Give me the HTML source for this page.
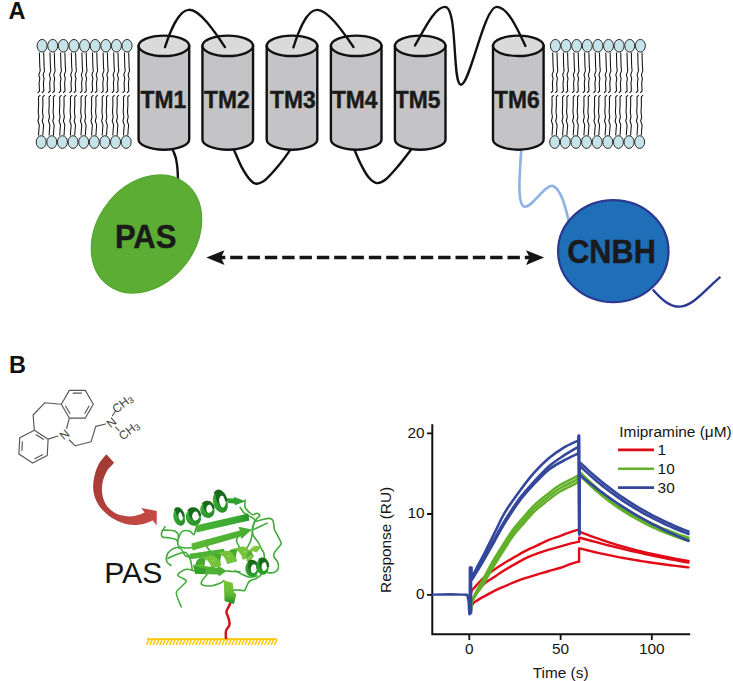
<!DOCTYPE html>
<html><head><meta charset="utf-8"><style>
html,body{margin:0;padding:0;background:#fff;}
svg{display:block;}
text{font-family:"Liberation Sans",sans-serif;}
.lbl{font-size:23.5px;font-weight:bold;fill:#111;}
.tm{font-size:24.8px;font-weight:bold;fill:#1a1a1a;stroke:#1a1a1a;stroke-width:0.45px;}
.big{font-size:33px;font-weight:bold;fill:#1a1a1a;stroke:#1a1a1a;stroke-width:0.4px;}
</style></head><body>
<svg width="733" height="681" viewBox="0 0 733 681">
<text x="8.6" y="18.9" class="lbl">A</text><path d="M39.4 52.5 L39.8 66.5 L40.2 70.8 L38.8 74.8 L39.8 78.6 L39.1 83.0 L39.5 91.0 L37.6 92.8 M43.7 52.5 L44.1 66.5 L44.5 70.8 L43.1 74.8 L44.1 78.6 L43.4 83.0 L43.8 91.0 L41.9 92.8 M40.3 95.2 L38.5 97.0 L38.6 105.0 L38.2 112.0 L38.9 117.0 L37.9 121.0 L39.3 125.0 L38.9 129.5 L38.5 135.5 M44.6 95.2 L42.8 97.0 L42.9 105.0 L42.5 112.0 L43.2 117.0 L42.2 121.0 L43.6 125.0 L43.2 129.5 L42.8 135.5 M50.0 52.5 L50.4 66.5 L50.8 70.8 L49.4 74.8 L50.4 78.6 L49.7 83.0 L50.1 91.0 L48.2 92.8 M54.3 52.5 L54.7 66.5 L55.1 70.8 L53.7 74.8 L54.7 78.6 L54.0 83.0 L54.4 91.0 L52.5 92.8 M50.9 95.2 L49.1 97.0 L49.2 105.0 L48.8 112.0 L49.5 117.0 L48.5 121.0 L49.9 125.0 L49.5 129.5 L49.1 135.5 M55.2 95.2 L53.4 97.0 L53.5 105.0 L53.1 112.0 L53.8 117.0 L52.8 121.0 L54.2 125.0 L53.8 129.5 L53.4 135.5 M60.6 52.5 L61.0 66.5 L61.4 70.8 L60.0 74.8 L61.0 78.6 L60.3 83.0 L60.7 91.0 L58.8 92.8 M64.9 52.5 L65.3 66.5 L65.7 70.8 L64.3 74.8 L65.3 78.6 L64.6 83.0 L65.0 91.0 L63.1 92.8 M61.5 95.2 L59.7 97.0 L59.8 105.0 L59.4 112.0 L60.1 117.0 L59.1 121.0 L60.5 125.0 L60.1 129.5 L59.7 135.5 M65.8 95.2 L64.0 97.0 L64.1 105.0 L63.7 112.0 L64.4 117.0 L63.4 121.0 L64.8 125.0 L64.4 129.5 L64.0 135.5 M71.3 52.5 L71.7 66.5 L72.1 70.8 L70.7 74.8 L71.7 78.6 L71.0 83.0 L71.4 91.0 L69.5 92.8 M75.6 52.5 L76.0 66.5 L76.4 70.8 L75.0 74.8 L76.0 78.6 L75.3 83.0 L75.7 91.0 L73.8 92.8 M72.2 95.2 L70.4 97.0 L70.5 105.0 L70.1 112.0 L70.8 117.0 L69.8 121.0 L71.2 125.0 L70.8 129.5 L70.4 135.5 M76.5 95.2 L74.7 97.0 L74.8 105.0 L74.4 112.0 L75.1 117.0 L74.1 121.0 L75.5 125.0 L75.1 129.5 L74.7 135.5 M81.9 52.5 L82.3 66.5 L82.7 70.8 L81.3 74.8 L82.3 78.6 L81.6 83.0 L82.0 91.0 L80.1 92.8 M86.2 52.5 L86.6 66.5 L87.0 70.8 L85.6 74.8 L86.6 78.6 L85.9 83.0 L86.3 91.0 L84.4 92.8 M82.8 95.2 L81.0 97.0 L81.1 105.0 L80.7 112.0 L81.4 117.0 L80.4 121.0 L81.8 125.0 L81.4 129.5 L81.0 135.5 M87.1 95.2 L85.3 97.0 L85.4 105.0 L85.0 112.0 L85.7 117.0 L84.7 121.0 L86.1 125.0 L85.7 129.5 L85.3 135.5 M92.5 52.5 L92.9 66.5 L93.3 70.8 L91.9 74.8 L92.9 78.6 L92.2 83.0 L92.6 91.0 L90.7 92.8 M96.8 52.5 L97.2 66.5 L97.6 70.8 L96.2 74.8 L97.2 78.6 L96.5 83.0 L96.9 91.0 L95.0 92.8 M93.4 95.2 L91.6 97.0 L91.7 105.0 L91.3 112.0 L92.0 117.0 L91.0 121.0 L92.4 125.0 L92.0 129.5 L91.6 135.5 M97.7 95.2 L95.9 97.0 L96.0 105.0 L95.6 112.0 L96.3 117.0 L95.3 121.0 L96.7 125.0 L96.3 129.5 L95.9 135.5 M103.1 52.5 L103.5 66.5 L103.9 70.8 L102.5 74.8 L103.5 78.6 L102.8 83.0 L103.2 91.0 L101.3 92.8 M107.4 52.5 L107.8 66.5 L108.2 70.8 L106.8 74.8 L107.8 78.6 L107.1 83.0 L107.5 91.0 L105.6 92.8 M104.0 95.2 L102.2 97.0 L102.3 105.0 L101.9 112.0 L102.6 117.0 L101.6 121.0 L103.0 125.0 L102.6 129.5 L102.2 135.5 M108.3 95.2 L106.5 97.0 L106.6 105.0 L106.2 112.0 L106.9 117.0 L105.9 121.0 L107.3 125.0 L106.9 129.5 L106.5 135.5 M113.7 52.5 L114.1 66.5 L114.5 70.8 L113.1 74.8 L114.1 78.6 L113.4 83.0 L113.8 91.0 L111.9 92.8 M118.0 52.5 L118.4 66.5 L118.8 70.8 L117.4 74.8 L118.4 78.6 L117.7 83.0 L118.1 91.0 L116.2 92.8 M114.6 95.2 L112.8 97.0 L112.9 105.0 L112.5 112.0 L113.2 117.0 L112.2 121.0 L113.6 125.0 L113.2 129.5 L112.8 135.5 M118.9 95.2 L117.1 97.0 L117.2 105.0 L116.8 112.0 L117.5 117.0 L116.5 121.0 L117.9 125.0 L117.5 129.5 L117.1 135.5 M124.4 52.5 L124.8 66.5 L125.2 70.8 L123.8 74.8 L124.8 78.6 L124.1 83.0 L124.5 91.0 L122.6 92.8 M128.7 52.5 L129.1 66.5 L129.5 70.8 L128.1 74.8 L129.1 78.6 L128.4 83.0 L128.8 91.0 L126.9 92.8 M125.3 95.2 L123.5 97.0 L123.6 105.0 L123.2 112.0 L123.9 117.0 L122.9 121.0 L124.3 125.0 L123.9 129.5 L123.5 135.5 M129.6 95.2 L127.8 97.0 L127.9 105.0 L127.5 112.0 L128.2 117.0 L127.2 121.0 L128.6 125.0 L128.2 129.5 L127.8 135.5" fill="none" stroke="#111" stroke-width="1.05"/><g fill="#c6e3e9" stroke="#2a2a2a" stroke-width="1"><ellipse cx="42.10" cy="45.75" rx="5.0" ry="6.3"/><ellipse cx="41.20" cy="142.05" rx="5.0" ry="6.35"/><ellipse cx="52.72" cy="45.75" rx="5.0" ry="6.3"/><ellipse cx="51.82" cy="142.05" rx="5.0" ry="6.35"/><ellipse cx="63.34" cy="45.75" rx="5.0" ry="6.3"/><ellipse cx="62.44" cy="142.05" rx="5.0" ry="6.35"/><ellipse cx="73.96" cy="45.75" rx="5.0" ry="6.3"/><ellipse cx="73.06" cy="142.05" rx="5.0" ry="6.35"/><ellipse cx="84.58" cy="45.75" rx="5.0" ry="6.3"/><ellipse cx="83.68" cy="142.05" rx="5.0" ry="6.35"/><ellipse cx="95.20" cy="45.75" rx="5.0" ry="6.3"/><ellipse cx="94.30" cy="142.05" rx="5.0" ry="6.35"/><ellipse cx="105.82" cy="45.75" rx="5.0" ry="6.3"/><ellipse cx="104.92" cy="142.05" rx="5.0" ry="6.35"/><ellipse cx="116.44" cy="45.75" rx="5.0" ry="6.3"/><ellipse cx="115.54" cy="142.05" rx="5.0" ry="6.35"/><ellipse cx="127.06" cy="45.75" rx="5.0" ry="6.3"/><ellipse cx="126.16" cy="142.05" rx="5.0" ry="6.35"/></g><path d="M552.7 52.5 L553.1 66.5 L553.5 70.8 L552.1 74.8 L553.1 78.6 L552.4 83.0 L552.8 91.0 L550.9 92.8 M557.0 52.5 L557.4 66.5 L557.8 70.8 L556.4 74.8 L557.4 78.6 L556.7 83.0 L557.1 91.0 L555.2 92.8 M553.8 95.2 L552.0 97.0 L552.1 105.0 L551.7 112.0 L552.4 117.0 L551.4 121.0 L552.8 125.0 L552.4 129.5 L552.0 135.5 M558.1 95.2 L556.3 97.0 L556.4 105.0 L556.0 112.0 L556.7 117.0 L555.7 121.0 L557.1 125.0 L556.7 129.5 L556.3 135.5 M563.3 52.5 L563.7 66.5 L564.1 70.8 L562.7 74.8 L563.7 78.6 L563.0 83.0 L563.4 91.0 L561.5 92.8 M567.6 52.5 L568.0 66.5 L568.4 70.8 L567.0 74.8 L568.0 78.6 L567.3 83.0 L567.7 91.0 L565.8 92.8 M564.4 95.2 L562.6 97.0 L562.7 105.0 L562.3 112.0 L563.0 117.0 L562.0 121.0 L563.4 125.0 L563.0 129.5 L562.6 135.5 M568.7 95.2 L566.9 97.0 L567.0 105.0 L566.6 112.0 L567.3 117.0 L566.3 121.0 L567.7 125.0 L567.3 129.5 L566.9 135.5 M573.9 52.5 L574.3 66.5 L574.7 70.8 L573.3 74.8 L574.3 78.6 L573.6 83.0 L574.0 91.0 L572.1 92.8 M578.2 52.5 L578.6 66.5 L579.0 70.8 L577.6 74.8 L578.6 78.6 L577.9 83.0 L578.3 91.0 L576.4 92.8 M575.0 95.2 L573.2 97.0 L573.3 105.0 L572.9 112.0 L573.6 117.0 L572.6 121.0 L574.0 125.0 L573.6 129.5 L573.2 135.5 M579.3 95.2 L577.5 97.0 L577.6 105.0 L577.2 112.0 L577.9 117.0 L576.9 121.0 L578.3 125.0 L577.9 129.5 L577.5 135.5 M584.6 52.5 L585.0 66.5 L585.4 70.8 L584.0 74.8 L585.0 78.6 L584.3 83.0 L584.7 91.0 L582.8 92.8 M588.9 52.5 L589.3 66.5 L589.7 70.8 L588.3 74.8 L589.3 78.6 L588.6 83.0 L589.0 91.0 L587.1 92.8 M585.7 95.2 L583.9 97.0 L584.0 105.0 L583.6 112.0 L584.3 117.0 L583.3 121.0 L584.7 125.0 L584.3 129.5 L583.9 135.5 M590.0 95.2 L588.2 97.0 L588.3 105.0 L587.9 112.0 L588.6 117.0 L587.6 121.0 L589.0 125.0 L588.6 129.5 L588.2 135.5 M595.2 52.5 L595.6 66.5 L596.0 70.8 L594.6 74.8 L595.6 78.6 L594.9 83.0 L595.3 91.0 L593.4 92.8 M599.5 52.5 L599.9 66.5 L600.3 70.8 L598.9 74.8 L599.9 78.6 L599.2 83.0 L599.6 91.0 L597.7 92.8 M596.3 95.2 L594.5 97.0 L594.6 105.0 L594.2 112.0 L594.9 117.0 L593.9 121.0 L595.3 125.0 L594.9 129.5 L594.5 135.5 M600.6 95.2 L598.8 97.0 L598.9 105.0 L598.5 112.0 L599.2 117.0 L598.2 121.0 L599.6 125.0 L599.2 129.5 L598.8 135.5 M605.8 52.5 L606.2 66.5 L606.6 70.8 L605.2 74.8 L606.2 78.6 L605.5 83.0 L605.9 91.0 L604.0 92.8 M610.1 52.5 L610.5 66.5 L610.9 70.8 L609.5 74.8 L610.5 78.6 L609.8 83.0 L610.2 91.0 L608.3 92.8 M606.9 95.2 L605.1 97.0 L605.2 105.0 L604.8 112.0 L605.5 117.0 L604.5 121.0 L605.9 125.0 L605.5 129.5 L605.1 135.5 M611.2 95.2 L609.4 97.0 L609.5 105.0 L609.1 112.0 L609.8 117.0 L608.8 121.0 L610.2 125.0 L609.8 129.5 L609.4 135.5 M616.4 52.5 L616.8 66.5 L617.2 70.8 L615.8 74.8 L616.8 78.6 L616.1 83.0 L616.5 91.0 L614.6 92.8 M620.7 52.5 L621.1 66.5 L621.5 70.8 L620.1 74.8 L621.1 78.6 L620.4 83.0 L620.8 91.0 L618.9 92.8 M617.5 95.2 L615.7 97.0 L615.8 105.0 L615.4 112.0 L616.1 117.0 L615.1 121.0 L616.5 125.0 L616.1 129.5 L615.7 135.5 M621.8 95.2 L620.0 97.0 L620.1 105.0 L619.7 112.0 L620.4 117.0 L619.4 121.0 L620.8 125.0 L620.4 129.5 L620.0 135.5 M627.0 52.5 L627.4 66.5 L627.8 70.8 L626.4 74.8 L627.4 78.6 L626.7 83.0 L627.1 91.0 L625.2 92.8 M631.3 52.5 L631.7 66.5 L632.1 70.8 L630.7 74.8 L631.7 78.6 L631.0 83.0 L631.4 91.0 L629.5 92.8 M628.1 95.2 L626.3 97.0 L626.4 105.0 L626.0 112.0 L626.7 117.0 L625.7 121.0 L627.1 125.0 L626.7 129.5 L626.3 135.5 M632.4 95.2 L630.6 97.0 L630.7 105.0 L630.3 112.0 L631.0 117.0 L630.0 121.0 L631.4 125.0 L631.0 129.5 L630.6 135.5 M637.7 52.5 L638.1 66.5 L638.5 70.8 L637.1 74.8 L638.1 78.6 L637.4 83.0 L637.8 91.0 L635.9 92.8 M642.0 52.5 L642.4 66.5 L642.8 70.8 L641.4 74.8 L642.4 78.6 L641.7 83.0 L642.1 91.0 L640.2 92.8 M638.8 95.2 L637.0 97.0 L637.1 105.0 L636.7 112.0 L637.4 117.0 L636.4 121.0 L637.8 125.0 L637.4 129.5 L637.0 135.5 M643.1 95.2 L641.3 97.0 L641.4 105.0 L641.0 112.0 L641.7 117.0 L640.7 121.0 L642.1 125.0 L641.7 129.5 L641.3 135.5" fill="none" stroke="#111" stroke-width="1.05"/><g fill="#c6e3e9" stroke="#2a2a2a" stroke-width="1"><ellipse cx="555.40" cy="45.75" rx="5.0" ry="6.3"/><ellipse cx="554.70" cy="142.05" rx="5.0" ry="6.35"/><ellipse cx="566.02" cy="45.75" rx="5.0" ry="6.3"/><ellipse cx="565.32" cy="142.05" rx="5.0" ry="6.35"/><ellipse cx="576.64" cy="45.75" rx="5.0" ry="6.3"/><ellipse cx="575.94" cy="142.05" rx="5.0" ry="6.35"/><ellipse cx="587.26" cy="45.75" rx="5.0" ry="6.3"/><ellipse cx="586.56" cy="142.05" rx="5.0" ry="6.35"/><ellipse cx="597.88" cy="45.75" rx="5.0" ry="6.3"/><ellipse cx="597.18" cy="142.05" rx="5.0" ry="6.35"/><ellipse cx="608.50" cy="45.75" rx="5.0" ry="6.3"/><ellipse cx="607.80" cy="142.05" rx="5.0" ry="6.35"/><ellipse cx="619.12" cy="45.75" rx="5.0" ry="6.3"/><ellipse cx="618.42" cy="142.05" rx="5.0" ry="6.35"/><ellipse cx="629.74" cy="45.75" rx="5.0" ry="6.3"/><ellipse cx="629.04" cy="142.05" rx="5.0" ry="6.35"/><ellipse cx="640.36" cy="45.75" rx="5.0" ry="6.3"/><ellipse cx="639.66" cy="142.05" rx="5.0" ry="6.35"/></g><g fill="none" stroke="#111" stroke-width="2.4"><path d="M170 146 C175 152 178.2 160 178 186"/><path d="M232.50 146.00 C232.78 146.73 232.65 146.85 234.20 150.40 C235.75 153.95 239.07 162.30 241.80 167.30 C244.53 172.30 248.13 177.67 250.60 180.40 C253.07 183.13 254.05 183.88 256.60 183.70 C259.15 183.52 262.17 182.40 265.90 179.30 C269.63 176.20 275.00 169.92 279.00 165.10 C283.00 160.28 287.73 153.58 289.90 150.40 C292.07 147.22 291.65 146.73 292.00 146.00"/><path d="M353.20 146.00 C353.45 146.73 353.45 147.40 354.70 150.40 C355.95 153.40 358.42 159.55 360.70 164.00 C362.98 168.45 365.75 173.92 368.40 177.10 C371.05 180.28 373.68 182.73 376.60 183.10 C379.52 183.47 382.17 182.30 385.90 179.30 C389.63 176.30 394.82 170.02 399.00 165.10 C403.18 160.18 408.58 152.98 411.00 149.80 C413.42 146.62 413.08 146.63 413.50 146.00"/></g><path d="M521.4 148 C520 170 517 200 523 206 C530 212 545 183 553 186 C562 190 566 210 569 222" fill="none" stroke="#8db3e2" stroke-width="2.6"/><path d="M138.60 45.80 L138.60 139.50 A25.30 10.20 0 0 0 189.20 139.50 L189.20 45.80 Z" fill="#c4c4c6" stroke="#111" stroke-width="2.4"/><ellipse cx="163.90" cy="45.80" rx="25.30" ry="10.20" fill="#dadada" stroke="#111" stroke-width="2.4"/><text transform="translate(163.40 108) scale(0.92 1)" class="tm" text-anchor="middle">TM1</text><path d="M202.45 45.80 L202.45 139.50 A25.30 10.20 0 0 0 253.05 139.50 L253.05 45.80 Z" fill="#c4c4c6" stroke="#111" stroke-width="2.4"/><ellipse cx="227.75" cy="45.80" rx="25.30" ry="10.20" fill="#dadada" stroke="#111" stroke-width="2.4"/><text transform="translate(226.85 108) scale(0.92 1)" class="tm" text-anchor="middle">TM2</text><path d="M266.70 45.80 L266.70 139.50 A25.30 10.20 0 0 0 317.30 139.50 L317.30 45.80 Z" fill="#c4c4c6" stroke="#111" stroke-width="2.4"/><ellipse cx="292.00" cy="45.80" rx="25.30" ry="10.20" fill="#dadada" stroke="#111" stroke-width="2.4"/><text transform="translate(292.90 108) scale(0.92 1)" class="tm" text-anchor="middle">TM3</text><path d="M330.90 45.80 L330.90 139.50 A25.30 10.20 0 0 0 381.50 139.50 L381.50 45.80 Z" fill="#c4c4c6" stroke="#111" stroke-width="2.4"/><ellipse cx="356.20" cy="45.80" rx="25.30" ry="10.20" fill="#dadada" stroke="#111" stroke-width="2.4"/><text transform="translate(354.70 108) scale(0.92 1)" class="tm" text-anchor="middle">TM4</text><path d="M394.90 45.80 L394.90 139.50 A25.30 10.20 0 0 0 445.50 139.50 L445.50 45.80 Z" fill="#c4c4c6" stroke="#111" stroke-width="2.4"/><ellipse cx="420.20" cy="45.80" rx="25.30" ry="10.20" fill="#dadada" stroke="#111" stroke-width="2.4"/><text transform="translate(417.60 108) scale(0.92 1)" class="tm" text-anchor="middle">TM5</text><path d="M493.00 45.80 L493.00 139.50 A25.30 10.20 0 0 0 543.60 139.50 L543.60 45.80 Z" fill="#c4c4c6" stroke="#111" stroke-width="2.4"/><ellipse cx="518.30" cy="45.80" rx="25.30" ry="10.20" fill="#dadada" stroke="#111" stroke-width="2.4"/><text transform="translate(516.80 108) scale(0.92 1)" class="tm" text-anchor="middle">TM6</text><g fill="none" stroke="#111" stroke-width="2.35" stroke-linecap="round"><path d="M165 47.1 C170 32 178 10 189 9.8 C200 9.6 215 32 225 47.1"/><path d="M293.4 47.4 C298 33 306 10 317 9.9 C328 9.8 343 32 353.5 47"/><path d="M415 45.4 C425 28 435 7 445 6.9 C458 7 452 84.7 461 84.7 C470 84.7 484 7 496.6 6.9 C508 7 518 30 525.4 46"/></g><ellipse cx="146.5" cy="234" rx="49.4" ry="63.9" transform="rotate(37.4 146.5 234)" fill="#5cad33" stroke="#52a42d" stroke-width="1.2"/><text transform="translate(145.6 247.7) scale(0.94 1)" class="big" text-anchor="middle">PAS</text><path d="M652.7 289.5 C662 300 670 307 680 306.6 C693 306 705 290 720.4 276.9" fill="none" stroke="#2b3990" stroke-width="2.4"/><ellipse cx="613.3" cy="251.2" rx="55.2" ry="51" fill="#1e6eb8" stroke="#2b3990" stroke-width="2.2"/><text transform="translate(611.5 263.2) scale(0.93 1)" class="big" text-anchor="middle">CNBH</text><line x1="212.87" y1="257.5" x2="530" y2="257.5" stroke="#151515" stroke-width="3.4" stroke-dasharray="12.4 4.93"/><path d="M206.3 257.5 L224.5 250.3 L221 257.5 L224.5 265.0 Z" fill="#151515"/><path d="M544.2 257.5 L526.0 250.3 L529.6 257.5 L526.0 265.0 Z" fill="#151515"/><text x="9" y="372.9" class="lbl">B</text><path d="M61.30 404.20 L69.30 390.34 M34.36 430.22 L48.11 439.15 M69.30 390.34 L85.30 390.34 M48.11 439.15 L47.25 455.53 M85.30 390.34 L93.30 404.20 M47.25 455.53 L32.64 462.98 M93.30 404.20 L85.30 418.06 M32.64 462.98 L18.89 454.05 M85.30 418.06 L69.30 418.06 M18.89 454.05 L19.75 437.67 M69.30 418.06 L61.30 404.20 M19.75 437.67 L34.36 430.22 M73.21 393.13 L81.39 393.13 M88.93 406.19 L84.84 413.28 M69.76 413.28 L65.67 406.19 M36.18 434.73 L43.25 439.32 M42.44 454.86 L34.92 458.68 M21.88 450.21 L22.32 441.79 M61.30 404.20 L45.00 402.70 M45.00 402.70 L33.10 415.00 M33.10 415.00 L34.36 430.22 M69.30 418.06 L66.60 428.50 M48.11 439.15 L58.00 436.00 M69.20 440.00 L75.30 445.80 M75.30 445.80 L91.10 441.70 M91.10 441.70 L95.80 426.40 M95.80 426.40 L105.60 424.00 M112.40 415.80 L115.60 410.80 M115.60 427.20 L119.00 430.60" fill="none" stroke="#555" stroke-width="1.15" stroke-linecap="round"/><g fill="#444" font-size="12px" style="font-family:'Liberation Sans',sans-serif"><text transform="translate(64.4 434.4) rotate(-40)" text-anchor="middle" dy="4.3">N</text><text transform="translate(111.2 422.4) rotate(-40)" text-anchor="middle" dy="4.3">N</text><text transform="translate(122.4 403.4) rotate(-38)" text-anchor="middle" dy="4.3">CH<tspan font-size="9px" dy="1.5">3</tspan></text><text transform="translate(128.8 430.4) rotate(-38)" text-anchor="middle" dy="4.3">CH<tspan font-size="9px" dy="1.5">3</tspan></text></g><defs><linearGradient id="rg" x1="0" y1="0" x2="1" y2="1"><stop offset="0" stop-color="#9d3733"/><stop offset="1" stop-color="#c94b46"/></linearGradient></defs><path d="M106.40 454.20 C105.18 455.75 101.07 459.95 99.10 463.50 C97.13 467.05 95.58 471.33 94.60 475.50 C93.62 479.67 92.97 484.38 93.20 488.50 C93.43 492.62 94.37 496.53 96.00 500.20 C97.63 503.87 99.87 507.27 103.00 510.50 C106.13 513.73 110.55 517.25 114.80 519.60 C119.05 521.95 123.87 523.83 128.50 524.60 C133.13 525.37 138.55 524.87 142.60 524.20 C146.65 523.53 151.10 521.20 152.80 520.60 L156.7 525.4 L156.8 511.1 L141.2 507.9 L144.60 512.50 C143.83 512.82 142.45 513.75 140.00 514.40 C137.55 515.05 133.50 516.37 129.90 516.40 C126.30 516.43 121.78 515.87 118.40 514.60 C115.02 513.33 111.93 510.98 109.60 508.80 C107.27 506.62 105.67 504.40 104.40 501.50 C103.13 498.60 102.25 494.80 102.00 491.40 C101.75 488.00 102.07 484.50 102.90 481.10 C103.73 477.70 105.13 474.05 107.00 471.00 C108.87 467.95 112.92 464.17 114.10 462.80 Z" fill="url(#rg)"/><rect x="147" y="638.2" width="129.7" height="1.8" fill="#fcc700"/><path d="M146.60 645 L149.00 639.6 M149.88 645 L152.28 639.6 M153.16 645 L155.56 639.6 M156.44 645 L158.84 639.6 M159.72 645 L162.12 639.6 M163.00 645 L165.40 639.6 M166.28 645 L168.68 639.6 M169.56 645 L171.96 639.6 M172.84 645 L175.24 639.6 M176.12 645 L178.52 639.6 M179.40 645 L181.80 639.6 M182.68 645 L185.08 639.6 M185.96 645 L188.36 639.6 M189.24 645 L191.64 639.6 M192.52 645 L194.92 639.6 M195.80 645 L198.20 639.6 M199.08 645 L201.48 639.6 M202.36 645 L204.76 639.6 M205.64 645 L208.04 639.6 M208.92 645 L211.32 639.6 M212.20 645 L214.60 639.6 M215.48 645 L217.88 639.6 M218.76 645 L221.16 639.6 M222.04 645 L224.44 639.6 M225.32 645 L227.72 639.6 M228.60 645 L231.00 639.6 M231.88 645 L234.28 639.6 M235.16 645 L237.56 639.6 M238.44 645 L240.84 639.6 M241.72 645 L244.12 639.6 M245.00 645 L247.40 639.6 M248.28 645 L250.68 639.6 M251.56 645 L253.96 639.6 M254.84 645 L257.24 639.6 M258.12 645 L260.52 639.6 M261.40 645 L263.80 639.6 M264.68 645 L267.08 639.6 M267.96 645 L270.36 639.6 M271.24 645 L273.64 639.6 M274.52 645 L276.92 639.6" stroke="#fcc700" stroke-width="1.5" fill="none"/><path d="M231.00 601.50 C230.60 602.42 229.37 605.25 228.60 607.00 C227.83 608.75 226.37 610.00 226.40 612.00 C226.43 614.00 228.30 616.83 228.80 619.00 C229.30 621.17 229.87 623.00 229.40 625.00 C228.93 627.00 226.57 628.67 226.00 631.00 C225.43 633.33 226.00 637.67 226.00 639.00" fill="none" stroke="#cc1a1f" stroke-width="2.6"/><defs><linearGradient id="s1" x1="0" y1="0" x2="1" y2="0"><stop offset="0" stop-color="#4cb336"/><stop offset="0.8" stop-color="#3aa834"/><stop offset="1" stop-color="#238f26"/></linearGradient><linearGradient id="s2" x1="0" y1="0" x2="1" y2="0"><stop offset="0" stop-color="#5cb834"/><stop offset="1" stop-color="#45ad34"/></linearGradient><linearGradient id="s3" x1="0" y1="0" x2="0" y2="1"><stop offset="0" stop-color="#7cc636"/><stop offset="0.6" stop-color="#62b834"/><stop offset="1" stop-color="#1f8a25"/></linearGradient><linearGradient id="hx" x1="0" y1="0" x2="1" y2="1"><stop offset="0" stop-color="#45b33a"/><stop offset="1" stop-color="#1f8a25"/></linearGradient></defs><path d="M165.10 526.60 C164.50 527.70 161.92 531.47 161.50 533.20 C161.08 534.93 161.63 536.27 162.60 537.00 C163.57 537.73 165.28 537.25 167.30 537.60 C169.32 537.95 172.98 538.48 174.70 539.10 C176.42 539.72 176.98 540.15 177.60 541.30 C178.22 542.45 177.30 544.90 178.40 546.00 C179.50 547.10 182.00 547.63 184.20 547.90 C186.40 548.17 190.37 547.65 191.60 547.60" fill="none" stroke="#3fab38" stroke-width="1.60" stroke-linecap="round" stroke-linejoin="round"/><path d="M162.20 530.30 C163.17 530.28 165.92 530.08 168.00 530.20 C170.08 530.32 172.97 530.25 174.70 531.00 C176.43 531.75 177.92 532.87 178.40 534.70 C178.88 536.53 177.73 540.78 177.60 542.00" fill="none" stroke="#3fab38" stroke-width="1.60" stroke-linecap="round" stroke-linejoin="round"/><path d="M178.40 538.40 C179.00 537.28 180.17 532.93 182.00 531.70 C183.83 530.47 187.43 530.50 189.40 531.00 C191.37 531.50 192.83 534.70 193.80 534.70 C194.77 534.70 194.83 532.12 195.20 531.00 C195.57 529.88 195.87 528.50 196.00 528.00" fill="none" stroke="#3fab38" stroke-width="1.60" stroke-linecap="round" stroke-linejoin="round"/><path d="M171.00 565.50 C170.27 564.77 167.10 563.18 166.60 561.10 C166.10 559.02 166.65 555.20 168.00 553.00 C169.35 550.80 172.60 548.63 174.70 547.90 C176.80 547.17 179.13 547.75 180.60 548.60 C182.07 549.45 182.65 551.77 183.50 553.00 C184.35 554.23 184.48 555.38 185.70 556.00 C186.92 556.62 189.95 556.58 190.80 556.70" fill="none" stroke="#3fab38" stroke-width="1.60" stroke-linecap="round" stroke-linejoin="round"/><path d="M168.00 558.20 C169.73 557.47 175.57 554.78 178.40 553.80 C181.23 552.82 183.30 551.93 185.00 552.30 C186.70 552.67 187.63 554.53 188.60 556.00 C189.57 557.47 190.18 558.77 190.80 561.10 C191.42 563.43 192.05 568.52 192.30 570.00" fill="none" stroke="#3fab38" stroke-width="1.60" stroke-linecap="round" stroke-linejoin="round"/><path d="M181.30 607.00 C180.82 605.83 179.22 602.47 178.40 600.00 C177.58 597.53 175.80 594.53 176.40 592.20 C177.00 589.87 180.37 587.90 182.00 586.00 C183.63 584.10 186.53 582.30 186.20 580.80 C185.87 579.30 181.37 578.10 180.00 577.00 C178.63 575.90 176.97 575.48 178.00 574.20 C179.03 572.92 183.47 569.85 186.20 569.30 C188.93 568.75 193.03 570.63 194.40 570.90" fill="none" stroke="#3fab38" stroke-width="1.50" stroke-linecap="round" stroke-linejoin="round"/><path d="M206.90 574.70 C206.03 575.80 202.43 579.58 201.70 581.30 C200.97 583.02 200.78 584.27 202.50 585.00 C204.22 585.73 208.95 586.07 212.00 585.70 C215.05 585.33 218.83 583.65 220.80 582.80 C222.77 581.95 223.30 580.97 223.80 580.60" fill="none" stroke="#3fab38" stroke-width="1.60" stroke-linecap="round" stroke-linejoin="round"/><path d="M234.00 590.10 C235.00 590.10 238.25 590.03 240.00 590.10 C241.75 590.17 243.38 591.17 244.50 590.50 C245.62 589.83 245.83 587.68 246.70 586.10 C247.57 584.52 247.98 582.35 249.70 581.00 C251.42 579.65 254.92 579.35 257.00 578.00 C259.08 576.65 260.97 575.95 262.20 572.90 C263.43 569.85 264.17 563.13 264.40 559.70 C264.63 556.27 264.00 553.92 263.60 552.30 C263.20 550.68 262.87 551.62 262.00 550.00 C261.13 548.38 259.87 545.07 258.40 542.60 C256.93 540.13 254.18 537.65 253.20 535.20 C252.22 532.75 252.25 530.10 252.50 527.90 C252.75 525.70 253.97 523.58 254.70 522.00 C255.43 520.42 256.05 519.50 256.90 518.40 C257.75 517.30 259.80 516.27 259.80 515.40 C259.80 514.53 258.00 513.32 256.90 513.20 C255.80 513.08 254.43 514.82 253.20 514.70 C251.97 514.58 250.85 513.73 249.50 512.50 C248.15 511.27 245.83 509.38 245.10 507.30 C244.37 505.22 245.10 501.22 245.10 500.00" fill="none" stroke="#3fab38" stroke-width="1.60" stroke-linecap="round" stroke-linejoin="round"/><path d="M240.00 507.30 C240.73 508.28 242.57 511.60 244.40 513.20 C246.23 514.80 249.28 515.80 251.00 516.90 C252.72 518.00 254.33 518.33 254.70 519.80 C255.07 521.27 253.57 523.87 253.20 525.70 C252.83 527.53 252.87 528.42 252.50 530.80 C252.13 533.18 251.92 537.13 251.00 540.00 C250.08 542.87 247.67 546.67 247.00 548.00" fill="none" stroke="#3fab38" stroke-width="1.60" stroke-linecap="round" stroke-linejoin="round"/><path d="M256.20 521.30 C257.17 521.05 259.80 520.28 262.00 519.80 C264.20 519.32 267.57 518.27 269.40 518.40 C271.23 518.53 272.15 518.77 273.00 520.60 C273.85 522.43 273.63 526.72 274.50 529.40 C275.37 532.08 277.10 534.50 278.20 536.70 C279.30 538.90 280.72 541.22 281.10 542.60 C281.48 543.98 281.58 543.38 280.50 545.00 C279.42 546.62 275.70 550.35 274.60 552.30 C273.50 554.25 273.40 555.10 273.90 556.70 C274.40 558.30 276.87 559.93 277.60 561.90 C278.33 563.87 278.80 566.78 278.30 568.50 C277.80 570.22 276.32 571.47 274.60 572.20 C272.88 572.93 269.10 572.78 268.00 572.90" fill="none" stroke="#3fab38" stroke-width="1.60" stroke-linecap="round" stroke-linejoin="round"/><path d="M254.00 529.40 C256.20 528.35 265.00 524.15 267.20 523.10" fill="none" stroke="#3fab38" stroke-width="1.60" stroke-linecap="round" stroke-linejoin="round"/><path d="M235.00 570.70 C236.22 571.32 239.85 573.30 242.30 574.40 C244.75 575.50 247.25 577.07 249.70 577.30 C252.15 577.53 255.78 576.05 257.00 575.80" fill="none" stroke="#3fab38" stroke-width="1.60" stroke-linecap="round" stroke-linejoin="round"/><path d="M226.70 571.00 C227.75 571.08 230.78 571.38 233.00 571.50 C235.22 571.62 238.83 571.67 240.00 571.70" fill="none" stroke="#3fab38" stroke-width="1.60" stroke-linecap="round" stroke-linejoin="round"/><path d="M207.00 540.00 C206.83 540.83 205.50 543.17 206.00 545.00 C206.50 546.83 208.50 549.17 210.00 551.00 C211.50 552.83 213.50 554.50 215.00 556.00 C216.50 557.50 218.33 559.33 219.00 560.00" fill="none" stroke="#3fab38" stroke-width="1.60" stroke-linecap="round" stroke-linejoin="round"/><path d="M238.50 535.00 C238.17 536.00 236.25 538.83 236.50 541.00 C236.75 543.17 239.42 546.83 240.00 548.00" fill="none" stroke="#3fab38" stroke-width="1.60" stroke-linecap="round" stroke-linejoin="round"/><path d="M195.30 525.40 L248.30 513.40 L249.40 520.40 L196.60 532.40 Z" fill="url(#s1)"/><path d="M191.40 543.60 L239.80 530.40 L238.60 526.80 L252.00 529.60 L241.40 539.00 L240.90 536.60 L192.50 550.60 Z" fill="url(#s2)"/><path d="M227.20 498.20 L234.00 498.40 L233.50 496.80 L245.50 501.30 L235.00 505.20 L234.50 503.40 L227.20 503.00 Z" fill="#2f9f2d"/><ellipse cx="179.35" cy="515.80" rx="4.05" ry="7.60" transform="rotate(-18.0 179.35 515.80)" fill="#1a6a1e"/><ellipse cx="181.62" cy="517.45" rx="2.92" ry="5.47" transform="rotate(-18.0 181.62 517.45)" fill="#fff"/><path d="M183.55 515.82 L183.20 514.55 L182.74 513.31 L182.17 512.15 L181.51 511.10 L180.79 510.20 L180.03 509.46 L179.24 508.91 L178.46 508.58 L177.71 508.46 L177.00 508.57 L176.37 508.90 L175.83 509.44 L175.39 510.17" fill="none" stroke="#1a6a1e" stroke-width="2.6" stroke-linecap="round"/><path d="M174.74 510.24 L174.16 511.17 L173.71 512.33 L173.41 513.70 L173.29 515.23 L173.38 516.86 L173.70 518.53 L174.25 520.17 L175.02 521.70 L175.97 523.06 L177.07 524.18 L178.28 525.02 L179.52 525.54 L180.76 525.72 L181.92 525.56 L182.95 525.07 L183.81 524.29 L184.45 523.27 L184.87 522.05 L185.05 520.69 L184.99 519.27 L184.73 517.83 L184.28 516.43 L183.08 516.49 L182.94 517.61 L182.71 518.57 L182.42 519.36 L182.10 519.96 L181.76 520.38 L181.42 520.62 L181.10 520.71 L180.79 520.66 L180.48 520.49 L180.18 520.22 L179.85 519.86 L179.50 519.41 L179.12 518.88 L178.69 518.28 L178.22 517.59 L177.73 516.82 L177.23 515.97 L176.75 515.05 L176.33 514.06 L175.99 513.03 L175.77 511.98 L175.70 510.96 Z" fill="url(#hx)"/><ellipse cx="193.75" cy="515.80" rx="6.15" ry="7.40" transform="rotate(-18.0 193.75 515.80)" fill="#1a6a1e"/><ellipse cx="196.66" cy="516.64" rx="4.43" ry="5.33" transform="rotate(-18.0 196.66 516.64)" fill="#fff"/><path d="M199.91 515.15 L199.60 513.90 L199.11 512.71 L198.46 511.61 L197.67 510.64 L196.76 509.82 L195.76 509.19 L194.69 508.75 L193.60 508.54 L192.51 508.54 L191.46 508.76 L190.48 509.20 L189.60 509.84 L188.85 510.66" fill="none" stroke="#1a6a1e" stroke-width="2.6" stroke-linecap="round"/><path d="M188.04 510.76 L187.20 511.76 L186.51 512.97 L186.02 514.37 L185.78 515.90 L185.80 517.52 L186.11 519.16 L186.71 520.75 L187.58 522.21 L188.70 523.48 L190.02 524.51 L191.48 525.24 L193.02 525.64 L194.58 525.70 L196.08 525.42 L197.46 524.82 L198.66 523.94 L199.64 522.82 L200.36 521.52 L200.81 520.10 L200.99 518.63 L200.91 517.16 L200.59 515.75 L199.39 515.82 L199.13 516.94 L198.71 517.93 L198.19 518.76 L197.59 519.43 L196.95 519.93 L196.28 520.27 L195.61 520.47 L194.95 520.53 L194.31 520.48 L193.68 520.32 L193.06 520.07 L192.45 519.73 L191.84 519.31 L191.25 518.78 L190.68 518.17 L190.14 517.45 L189.65 516.64 L189.24 515.72 L188.94 514.73 L188.79 513.67 L188.80 512.58 L189.00 511.49 Z" fill="url(#hx)"/><ellipse cx="207.75" cy="508.60" rx="5.65" ry="6.80" transform="rotate(-18.0 207.75 508.60)" fill="#1a6a1e"/><ellipse cx="210.42" cy="509.37" rx="4.07" ry="4.90" transform="rotate(-18.0 210.42 509.37)" fill="#fff"/><path d="M213.41 508.00 L213.12 506.85 L212.68 505.76 L212.08 504.75 L211.35 503.85 L210.52 503.11 L209.59 502.52 L208.62 502.13 L207.61 501.93 L206.61 501.93 L205.65 502.13 L204.75 502.53 L203.94 503.12 L203.24 503.87" fill="none" stroke="#1a6a1e" stroke-width="2.6" stroke-linecap="round"/><path d="M202.47 503.94 L201.66 504.85 L201.00 505.97 L200.53 507.27 L200.28 508.70 L200.29 510.22 L200.57 511.76 L201.12 513.25 L201.93 514.63 L202.98 515.83 L204.22 516.79 L205.60 517.48 L207.06 517.86 L208.53 517.91 L209.94 517.64 L211.24 517.07 L212.36 516.23 L213.27 515.17 L213.94 513.94 L214.35 512.61 L214.50 511.23 L214.40 509.86 L214.08 508.56 L212.89 508.62 L212.62 509.64 L212.22 510.53 L211.72 511.27 L211.17 511.85 L210.58 512.28 L209.98 512.56 L209.39 512.71 L208.81 512.75 L208.25 512.69 L207.71 512.54 L207.18 512.32 L206.65 512.02 L206.13 511.65 L205.60 511.20 L205.09 510.67 L204.59 510.05 L204.14 509.33 L203.75 508.52 L203.45 507.63 L203.28 506.67 L203.27 505.67 L203.43 504.66 Z" fill="url(#hx)"/><ellipse cx="220.50" cy="500.50" rx="5.60" ry="9.90" transform="rotate(-18.0 220.50 500.50)" fill="#1a6a1e"/><ellipse cx="223.56" cy="502.54" rx="4.03" ry="7.13" transform="rotate(-18.0 223.56 502.54)" fill="#fff"/><path d="M226.28 500.43 L225.83 498.77 L225.21 497.16 L224.46 495.65 L223.58 494.29 L222.61 493.12 L221.58 492.17 L220.51 491.48 L219.45 491.06 L218.41 490.93 L217.44 491.08 L216.56 491.53 L215.80 492.24 L215.19 493.21" fill="none" stroke="#1a6a1e" stroke-width="2.6" stroke-linecap="round"/><path d="M214.46 493.42 L213.77 494.66 L213.24 496.17 L212.92 497.91 L212.83 499.83 L213.00 501.85 L213.45 503.90 L214.16 505.90 L215.13 507.76 L216.32 509.41 L217.68 510.77 L219.16 511.79 L220.70 512.42 L222.21 512.65 L223.65 512.48 L224.94 511.91 L226.02 510.98 L226.87 509.75 L227.45 508.26 L227.74 506.60 L227.76 504.83 L227.51 503.02 L227.04 501.23 L225.84 501.30 L225.73 502.80 L225.48 504.13 L225.12 505.27 L224.67 506.18 L224.18 506.86 L223.64 507.31 L223.09 507.55 L222.52 507.58 L221.94 507.43 L221.35 507.11 L220.74 506.62 L220.11 505.99 L219.47 505.23 L218.80 504.34 L218.13 503.32 L217.47 502.19 L216.85 500.96 L216.30 499.64 L215.84 498.27 L215.52 496.87 L215.37 495.47 L215.42 494.14 Z" fill="url(#hx)"/><path d="M189.50 553.80 L224.20 548.80 L225.00 554.60 L190.20 559.20 Z" fill="#4fb235"/><path d="M205.36 569.73 L205.25 569.51 L205.12 569.15 L204.98 568.64 L204.86 568.00 L204.76 567.24 L204.69 566.37 L204.66 565.41 L204.69 564.39 L204.79 563.33 L204.95 562.25 L205.19 561.17 L205.52 560.12 L205.92 559.12 L206.41 558.20 L206.97 557.37 L207.62 556.65 L208.33 556.06 L209.10 555.60 L209.93 555.30 L210.79 555.14 L201.14 557.77 L200.28 557.93 L199.45 558.23 L198.68 558.69 L197.97 559.28 L197.33 560.00 L196.76 560.83 L196.27 561.75 L195.87 562.75 L195.55 563.80 L195.30 564.88 L195.14 565.96 L195.05 567.03 L195.02 568.05 L195.04 569.00 L195.11 569.87 L195.21 570.63 L195.34 571.27 L195.47 571.78 L195.60 572.15 L195.71 572.36 Z" fill="#48a82f"/><path d="M221.07 565.44 L220.96 565.23 L220.83 564.87 L220.70 564.36 L220.58 563.72 L220.47 562.95 L220.40 562.08 L220.38 561.13 L220.41 560.11 L220.50 559.05 L220.67 557.96 L220.91 556.88 L221.23 555.83 L221.64 554.84 L222.12 553.91 L222.69 553.08 L223.33 552.36 L224.04 551.77 L224.81 551.32 L225.64 551.01 L226.51 550.86 L216.86 553.49 L215.99 553.64 L215.17 553.95 L214.39 554.40 L213.68 554.99 L213.04 555.71 L212.47 556.54 L211.99 557.47 L211.58 558.47 L211.26 559.52 L211.02 560.59 L210.85 561.68 L210.76 562.74 L210.73 563.76 L210.75 564.71 L210.82 565.58 L210.93 566.35 L211.05 566.99 L211.18 567.50 L211.31 567.86 L211.42 568.07 Z" fill="#48a82f"/><path d="M236.86 561.22 L236.78 561.16 L236.67 560.94 L236.55 560.58 L236.41 560.07 L236.29 559.43 L236.19 558.67 L236.12 557.80 L236.09 556.84 L236.12 555.82 L236.22 554.76 L236.38 553.68 L236.62 552.60 L236.94 551.55 L237.35 550.55 L237.84 549.63 L238.40 548.80 L239.05 548.08 L239.76 547.48 L240.53 547.03 L241.35 546.72 L242.22 546.57 L232.57 549.20 L231.71 549.36 L230.88 549.66 L230.11 550.12 L229.40 550.71 L228.76 551.43 L228.19 552.26 L227.70 553.18 L227.30 554.18 L226.97 555.23 L226.73 556.31 L226.57 557.39 L226.47 558.45 L226.44 559.47 L226.47 560.43 L226.54 561.30 L226.64 562.06 L226.77 562.70 L226.90 563.21 L227.03 563.57 L227.14 563.79 L227.22 563.85 Z" fill="#48a82f"/><path d="M252.58 556.93 L252.50 556.87 L252.39 556.66 L252.26 556.29 L252.13 555.79 L252.00 555.14 L251.90 554.38 L251.83 553.51 L251.81 552.56 L251.84 551.54 L251.93 550.47 L242.28 553.10 L242.19 554.17 L242.16 555.19 L242.18 556.14 L242.25 557.01 L242.36 557.78 L242.48 558.42 L242.61 558.93 L242.74 559.29 L242.85 559.50 L242.93 559.56 Z" fill="#48a82f"/><path d="M202.72 563.90 L203.34 564.76 L203.88 565.63 L204.35 566.46 L204.73 567.25 L205.03 567.96 L205.24 568.57 L205.39 569.08 L205.46 569.46 L205.48 569.70 L205.44 569.79 L205.36 569.73 L195.71 572.36 L195.79 572.42 L195.83 572.33 L195.81 572.09 L195.74 571.71 L195.60 571.20 L195.38 570.59 L195.08 569.88 L194.70 569.09 L194.23 568.26 L193.69 567.39 L193.07 566.53 Z" fill="#74c338"/><ellipse cx="199.42" cy="568.39" rx="2.2" ry="0.9" transform="rotate(-25 199.42 568.39)" fill="#9fd66a" opacity="0.7"/><path d="M210.79 555.14 L211.69 555.14 L212.60 555.29 L213.52 555.58 L214.43 556.01 L215.32 556.56 L216.17 557.21 L216.98 557.95 L217.74 558.76 L218.43 559.61 L219.05 560.48 L219.60 561.34 L220.06 562.18 L220.44 562.96 L220.74 563.67 L220.96 564.29 L221.10 564.79 L221.18 565.17 L221.19 565.41 L221.15 565.50 L221.07 565.44 L211.42 568.07 L211.50 568.13 L211.54 568.04 L211.53 567.80 L211.45 567.42 L211.31 566.92 L211.09 566.30 L210.79 565.59 L210.41 564.81 L209.95 563.97 L209.41 563.11 L208.78 562.24 L208.09 561.39 L207.34 560.59 L206.53 559.84 L205.67 559.19 L204.78 558.64 L203.87 558.21 L202.95 557.92 L202.04 557.77 L201.14 557.77 Z" fill="#74c338"/><ellipse cx="213.23" cy="560.29" rx="2.2" ry="0.9" transform="rotate(-25 213.23 560.29)" fill="#9fd66a" opacity="0.7"/><path d="M226.51 550.86 L227.40 550.85 L228.32 551.00 L229.23 551.30 L230.14 551.72 L231.03 552.27 L231.89 552.93 L232.70 553.67 L233.45 554.47 L234.15 555.32 L234.77 556.19 L235.31 557.06 L235.77 557.89 L236.16 558.68 L236.45 559.39 L236.67 560.00 L236.82 560.51 L236.89 560.88 L236.90 561.12 L236.86 561.22 L227.22 563.85 L227.26 563.75 L227.24 563.52 L227.17 563.14 L227.03 562.63 L226.81 562.02 L226.51 561.31 L226.13 560.52 L225.66 559.69 L225.12 558.82 L224.50 557.95 L223.81 557.11 L223.05 556.30 L222.24 555.56 L221.39 554.90 L220.50 554.36 L219.59 553.93 L218.67 553.63 L217.75 553.49 L216.86 553.49 Z" fill="#74c338"/><ellipse cx="228.94" cy="556.01" rx="2.2" ry="0.9" transform="rotate(-25 228.94 556.01)" fill="#9fd66a" opacity="0.7"/><path d="M242.22 546.57 L243.12 546.57 L244.03 546.72 L244.95 547.01 L245.86 547.44 L246.75 547.99 L247.60 548.64 L248.41 549.38 L249.17 550.19 L249.86 551.04 L250.48 551.91 L251.03 552.77 L251.49 553.61 L251.87 554.39 L252.17 555.10 L252.39 555.72 L252.53 556.22 L252.61 556.60 L252.62 556.84 L252.58 556.93 L242.93 559.56 L242.97 559.47 L242.96 559.23 L242.88 558.85 L242.74 558.35 L242.52 557.73 L242.22 557.02 L241.84 556.24 L241.38 555.40 L240.83 554.54 L240.21 553.67 L239.52 552.82 L238.77 552.01 L237.95 551.27 L237.10 550.62 L236.21 550.07 L235.30 549.64 L234.38 549.35 L233.47 549.20 L232.57 549.20 Z" fill="#74c338"/><ellipse cx="244.66" cy="551.72" rx="2.2" ry="0.9" transform="rotate(-25 244.66 551.72)" fill="#9fd66a" opacity="0.7"/><path d="M253.81 556.20 L253.81 556.18 L253.81 556.14 L253.79 556.11 L253.78 556.06 L253.75 556.01 L253.72 555.95 L253.68 555.88 L253.63 555.81 L253.58 555.73 L253.53 555.64 L253.46 555.54 L253.40 555.44 L253.33 555.33 L253.25 555.21 L253.18 555.09 L253.10 554.96 L253.01 554.82 L252.93 554.68 L252.84 554.53 L252.75 554.37 L252.66 554.21 L252.57 554.04 L252.48 553.87 L252.39 553.69 L252.30 553.51 L252.21 553.32 L252.13 553.13 L252.04 552.93 L251.96 552.74 L251.88 552.53 L251.81 552.33 L251.74 552.12 L251.67 551.91 L251.61 551.70 L251.55 551.49 L251.50 551.28 L251.46 551.07 L251.42 550.85 L251.38 550.64 L251.36 550.43 L251.34 550.22 L251.32 550.01 L251.32 549.80 L251.32 549.59 L251.33 549.39 L251.34 549.19 L251.37 548.99 L251.40 548.80 L251.45 548.61 L251.50 548.42 L251.55 548.24 L251.62 548.07 L251.69 547.90 L251.78 547.73 L251.87 547.57 L251.97 547.42 L252.08 547.27 L252.19 547.13 L247.76 552.55 L247.64 552.69 L247.54 552.84 L247.44 552.99 L247.34 553.15 L247.26 553.31 L247.19 553.49 L247.12 553.66 L247.06 553.84 L247.01 554.03 L246.97 554.22 L246.94 554.41 L246.91 554.61 L246.90 554.81 L246.89 555.01 L246.88 555.22 L246.89 555.42 L246.90 555.63 L246.92 555.85 L246.95 556.06 L246.98 556.27 L247.02 556.48 L247.07 556.70 L247.12 556.91 L247.18 557.12 L247.24 557.33 L247.31 557.54 L247.38 557.75 L247.45 557.95 L247.53 558.15 L247.61 558.35 L247.69 558.55 L247.78 558.74 L247.87 558.93 L247.96 559.11 L248.05 559.29 L248.14 559.46 L248.23 559.63 L248.32 559.79 L248.41 559.94 L248.49 560.09 L248.58 560.24 L248.66 560.37 L248.74 560.51 L248.82 560.63 L248.90 560.75 L248.97 560.86 L249.03 560.96 L249.09 561.06 L249.15 561.14 L249.20 561.23 L249.24 561.30 L249.28 561.37 L249.32 561.43 L249.34 561.48 L249.36 561.52 L249.37 561.56 L249.38 561.59 L249.38 561.62 Z" fill="#4fae33"/><path d="M250.17 555.13 L250.37 555.17 L250.58 555.22 L250.78 555.27 L250.98 555.32 L251.17 555.37 L251.36 555.42 L251.55 555.48 L251.72 555.53 L251.90 555.59 L252.06 555.65 L252.22 555.70 L252.38 555.76 L252.52 555.81 L252.66 555.86 L252.79 555.91 L252.92 555.96 L253.04 556.01 L253.14 556.05 L253.25 556.09 L253.34 556.12 L253.42 556.15 L253.50 556.18 L253.57 556.20 L253.62 556.22 L253.68 556.23 L253.72 556.24 L253.75 556.24 L253.78 556.23 L253.80 556.22 L253.81 556.20 L249.38 561.62 L249.37 561.64 L249.35 561.65 L249.32 561.65 L249.29 561.65 L249.24 561.65 L249.19 561.64 L249.13 561.62 L249.07 561.60 L248.99 561.57 L248.90 561.54 L248.81 561.50 L248.71 561.47 L248.60 561.42 L248.49 561.38 L248.36 561.33 L248.23 561.28 L248.09 561.23 L247.94 561.17 L247.79 561.12 L247.63 561.06 L247.46 561.01 L247.29 560.95 L247.11 560.90 L246.93 560.84 L246.74 560.79 L246.55 560.73 L246.35 560.68 L246.15 560.64 L245.94 560.59 L245.73 560.55 Z" fill="#7cc63a"/><ellipse cx="249.58" cy="557.12" rx="2.2" ry="0.9" transform="rotate(-25 249.58 557.12)" fill="#9fd66a" opacity="0.7"/><path d="M252.19 547.13 L252.31 547.00 L252.45 546.87 L252.58 546.75 L252.73 546.63 L252.88 546.53 L253.04 546.43 L253.21 546.33 L253.38 546.25 L253.56 546.17 L253.74 546.10 L253.93 546.03 L254.12 545.98 L254.32 545.93 L254.52 545.89 L254.72 545.85 L254.93 545.82 L255.14 545.80 L255.36 545.78 L255.57 545.77 L255.79 545.77 L256.01 545.77 L256.23 545.78 L256.44 545.80 L256.66 545.82 L256.88 545.84 L257.10 545.87 L257.31 545.90 L257.53 545.94 L257.74 545.98 L257.94 546.02 L258.15 546.07 L258.35 546.12 L258.55 546.17 L258.74 546.22 L258.92 546.27 L259.11 546.33 L259.28 546.39 L259.45 546.44 L259.62 546.50 L259.78 546.55 L259.93 546.61 L260.07 546.66 L260.21 546.71 L260.34 546.76 L260.46 546.81 L260.57 546.85 L260.68 546.89 L260.78 546.93 L260.87 546.97 L260.95 546.99 L261.02 547.02 L261.09 547.04 L256.65 552.46 L256.59 552.44 L256.52 552.41 L256.43 552.38 L256.34 552.35 L256.25 552.31 L256.14 552.27 L256.03 552.23 L255.90 552.18 L255.78 552.13 L255.64 552.08 L255.49 552.03 L255.34 551.97 L255.19 551.92 L255.02 551.86 L254.85 551.80 L254.67 551.75 L254.49 551.69 L254.30 551.64 L254.11 551.58 L253.92 551.53 L253.72 551.48 L253.51 551.44 L253.30 551.40 L253.09 551.35 L252.88 551.32 L252.66 551.29 L252.45 551.26 L252.23 551.23 L252.01 551.21 L251.79 551.20 L251.57 551.19 L251.36 551.19 L251.14 551.19 L250.92 551.20 L250.71 551.22 L250.50 551.24 L250.29 551.27 L250.09 551.30 L249.88 551.35 L249.69 551.40 L249.49 551.45 L249.31 551.52 L249.12 551.59 L248.94 551.66 L248.77 551.75 L248.61 551.84 L248.45 551.94 L248.30 552.05 L248.15 552.16 L248.01 552.29 L247.88 552.41 L247.76 552.55 Z" fill="#7cc63a"/><ellipse cx="253.88" cy="547.08" rx="2.2" ry="0.9" transform="rotate(-25 253.88 547.08)" fill="#9fd66a" opacity="0.7"/><path d="M193.00 564.50 L217.50 567.80 L217.90 565.60 L226.70 571.00 L218.60 576.50 L218.40 574.40 L195.00 574.00 Z" fill="url(#s2)"/><path d="M194 566 L206 569 L205 574 L195 573.5 Z" fill="#2c9a2a" opacity="0.8"/><ellipse cx="252.25" cy="567.95" rx="5.35" ry="7.05" transform="rotate(-8.0 252.25 567.95)" fill="#1a6a1e"/><ellipse cx="254.65" cy="569.37" rx="3.85" ry="5.08" transform="rotate(-8.0 254.65 569.37)" fill="#fff"/><path d="M257.64 568.43 L257.55 567.21 L257.30 566.00 L256.89 564.86 L256.35 563.81 L255.68 562.89 L254.90 562.12 L254.05 561.53 L253.14 561.13 L252.20 560.95 L251.27 560.97 L250.36 561.20 L249.52 561.64 L248.75 562.28" fill="none" stroke="#1a6a1e" stroke-width="2.6" stroke-linecap="round"/><path d="M248.00 562.22 L247.17 563.06 L246.46 564.10 L245.90 565.33 L245.53 566.70 L245.37 568.16 L245.44 569.67 L245.75 571.17 L246.29 572.60 L247.05 573.89 L248.00 575.00 L249.11 575.88 L250.32 576.49 L251.59 576.82 L252.86 576.84 L254.09 576.57 L255.22 576.03 L256.20 575.23 L257.02 574.23 L257.63 573.07 L258.04 571.80 L258.23 570.46 L258.22 569.11 L257.03 568.96 L256.70 569.99 L256.27 570.89 L255.75 571.65 L255.17 572.25 L254.55 572.69 L253.92 572.97 L253.29 573.11 L252.67 573.10 L252.06 572.96 L251.48 572.69 L250.92 572.31 L250.39 571.83 L249.89 571.24 L249.43 570.55 L249.02 569.78 L248.67 568.93 L248.40 568.00 L248.23 567.03 L248.16 566.02 L248.23 565.01 L248.45 564.02 L248.82 563.10 Z" fill="#2a9d2a"/><ellipse cx="262.90" cy="565.75" rx="5.00" ry="7.05" transform="rotate(-8.0 262.90 565.75)" fill="#1a6a1e"/><ellipse cx="265.17" cy="567.27" rx="3.60" ry="5.08" transform="rotate(-8.0 265.17 567.27)" fill="#fff"/><path d="M267.95 566.28 L267.85 565.05 L267.61 563.85 L267.22 562.71 L266.70 561.66 L266.06 560.73 L265.33 559.95 L264.53 559.36 L263.67 558.95 L262.79 558.75 L261.92 558.77 L261.07 559.00 L260.28 559.43 L259.57 560.05" fill="none" stroke="#1a6a1e" stroke-width="2.6" stroke-linecap="round"/><path d="M258.85 559.99 L258.07 560.82 L257.40 561.86 L256.87 563.08 L256.52 564.45 L256.37 565.91 L256.44 567.42 L256.73 568.92 L257.26 570.35 L257.99 571.65 L258.90 572.76 L259.96 573.65 L261.12 574.27 L262.33 574.60 L263.54 574.64 L264.71 574.38 L265.78 573.84 L266.71 573.06 L267.47 572.06 L268.04 570.91 L268.40 569.64 L268.57 568.30 L268.53 566.96 L267.34 566.81 L267.04 567.84 L266.63 568.73 L266.15 569.48 L265.62 570.08 L265.06 570.51 L264.48 570.79 L263.91 570.91 L263.35 570.89 L262.80 570.74 L262.28 570.47 L261.77 570.09 L261.29 569.59 L260.83 569.00 L260.40 568.31 L260.01 567.53 L259.67 566.68 L259.40 565.76 L259.21 564.78 L259.13 563.78 L259.17 562.77 L259.34 561.79 L259.67 560.87 Z" fill="#2a9d2a"/><path d="M223.80 580.60 L232.60 582.80 L234.00 592.00 L236.30 594.40 L234.00 604.00 L224.50 601.10 Z" fill="url(#s3)"/><text x="104.2" y="583.3" style="font-family:'Liberation Sans',sans-serif;font-size:30.2px;fill:#141414">PAS</text><path d="M432.3 424.3 L432.3 634.3 L690.2 634.3" fill="none" stroke="#111" stroke-width="2"/><path d="M427 433.3 H432.3 M427 514 H432.3 M427 594.8 H432.3 M469.3 634.3 V640 M560.6 634.3 V640 M651.8 634.3 V640" stroke="#111" stroke-width="1.8"/><g style="font-family:'Liberation Sans',sans-serif;font-size:15.4px;fill:#151515"><text x="424.6" y="437.7" text-anchor="end">20</text><text x="424.6" y="518.4" text-anchor="end">10</text><text x="424.6" y="599.4" text-anchor="end">0</text><text x="469.3" y="654" text-anchor="middle">0</text><text x="560.6" y="654" text-anchor="middle">50</text><text x="651.8" y="654" text-anchor="middle">100</text><text x="560.6" y="677.7" text-anchor="middle">Time (s)</text><text transform="translate(391.2 539.9) rotate(-90)" text-anchor="middle">Response (RU)</text><text x="619.3" y="436.8">Imipramine (μM):</text><text x="657.6" y="455.3">1</text><text x="657.6" y="474.1">10</text><text x="657.6" y="493">30</text></g><path d="M618 449.9 H654" stroke="#e20a17" stroke-width="2.6"/><path d="M618 468.7 H654" stroke="#62b02a" stroke-width="2.6"/><path d="M618 487.6 H654" stroke="#34479b" stroke-width="2.6"/><path d="M470.40 595.61 L471.67 590.76 C472.50 589.82 474.54 587.36 476.61 585.11 C478.68 582.86 481.35 579.70 484.09 577.28 C486.83 574.85 489.73 572.90 493.04 570.57 C496.36 568.25 500.35 565.60 504.00 563.31 C507.65 561.02 511.61 558.80 514.96 556.85 C518.31 554.90 520.44 553.48 524.09 551.60 C527.74 549.71 532.74 547.49 536.88 545.54 C541.02 543.59 544.97 541.50 548.93 539.89 C552.89 538.27 556.94 537.20 560.62 535.85 C564.30 534.51 568.11 532.85 571.03 531.81 C573.95 530.78 576.97 530.00 578.15 529.63 L579.07 529.63 L579.07 531.83 L579.98 531.83 L583.60 533.28 L587.21 534.69 L590.83 536.06 L594.44 537.38 L598.06 538.67 L601.68 539.92 L605.29 541.13 L608.91 542.31 L612.53 543.45 L616.14 544.56 L619.76 545.63 L623.38 546.67 L626.99 547.68 L630.61 548.67 L634.22 549.62 L637.84 550.54 L641.46 551.44 L645.07 552.31 L648.69 553.15 L652.31 553.97 L655.92 554.77 L659.54 555.54 L663.15 556.29 L666.77 557.02 L670.39 557.72 L674.00 558.40 L677.62 559.07 L681.24 559.71 L684.85 560.34 L688.47 560.95" fill="none" stroke="#e20a17" stroke-width="2.40" stroke-linejoin="round" stroke-linecap="round"/><path d="M470.40 603.68 L472.95 598.84 C473.56 597.90 474.75 595.66 476.61 593.18 C478.46 590.71 481.35 586.54 484.09 583.98 C486.83 581.42 489.73 580.08 493.04 577.84 C496.36 575.61 500.35 572.86 504.00 570.57 C507.65 568.29 511.12 566.27 514.96 564.12 C518.80 561.96 523.36 559.40 527.01 557.65 C530.67 555.91 533.22 554.96 536.88 553.62 C540.53 552.27 544.97 550.79 548.93 549.58 C552.89 548.37 556.94 547.39 560.62 546.35 C564.30 545.31 568.11 544.10 571.03 543.36 C573.95 542.62 576.97 542.15 578.15 541.91 L579.07 541.91 L579.07 537.72 L579.98 537.72 L583.60 538.74 L587.21 539.74 L590.83 540.73 L594.44 541.71 L598.06 542.67 L601.68 543.62 L605.29 544.55 L608.91 545.47 L612.53 546.37 L616.14 547.27 L619.76 548.15 L623.38 549.02 L626.99 549.87 L630.61 550.71 L634.22 551.54 L637.84 552.36 L641.46 553.17 L645.07 553.96 L648.69 554.74 L652.31 555.52 L655.92 556.28 L659.54 557.03 L663.15 557.76 L666.77 558.49 L670.39 559.21 L674.00 559.92 L677.62 560.61 L681.24 561.30 L684.85 561.97 L688.47 562.64" fill="none" stroke="#e20a17" stroke-width="2.40" stroke-linejoin="round" stroke-linecap="round"/><path d="M470.40 607.32 L473.87 602.47 C474.63 602.00 476.73 600.65 478.43 599.64 C480.14 598.64 481.66 597.76 484.09 596.41 C486.53 595.07 489.85 593.16 493.04 591.57 C496.24 589.98 499.62 588.50 503.27 586.89 C506.92 585.27 511.19 583.39 514.96 581.88 C518.73 580.37 522.27 579.05 525.92 577.84 C529.57 576.63 533.04 575.76 536.88 574.61 C540.71 573.47 544.97 572.12 548.93 570.98 C552.89 569.83 556.94 568.93 560.62 567.75 C564.30 566.56 568.11 564.88 571.03 563.87 C573.95 562.86 576.97 562.06 578.15 561.69 L579.07 561.69 L579.07 548.39 L579.98 548.39 L583.60 549.32 L587.21 550.23 L590.83 551.11 L594.44 551.97 L598.06 552.80 L601.68 553.61 L605.29 554.40 L608.91 555.16 L612.53 555.90 L616.14 556.62 L619.76 557.31 L623.38 557.99 L626.99 558.65 L630.61 559.29 L634.22 559.91 L637.84 560.51 L641.46 561.10 L645.07 561.67 L648.69 562.22 L652.31 562.76 L655.92 563.28 L659.54 563.78 L663.15 564.27 L666.77 564.75 L670.39 565.21 L674.00 565.66 L677.62 566.10 L681.24 566.52 L684.85 566.94 L688.47 567.34" fill="none" stroke="#e20a17" stroke-width="2.40" stroke-linejoin="round" stroke-linecap="round"/><path d="M470.76 585.11 L470.76 612.56" fill="none" stroke="#e20a17" stroke-width="2.00" stroke-linejoin="round" stroke-linecap="round"/><path d="M470.94 610.95 L471.67 602.49 C472.50 601.02 474.54 596.94 476.61 593.67 C478.68 590.40 481.35 587.27 484.09 582.88 C486.83 578.49 489.79 572.76 493.04 567.34 C496.30 561.93 500.29 555.64 503.64 550.39 C506.98 545.14 509.72 540.43 513.13 535.85 C516.54 531.28 520.44 527.10 524.09 522.93 C527.74 518.76 531.25 514.45 535.05 510.82 C538.86 507.19 542.96 504.23 546.92 501.13 C550.88 498.03 554.78 494.80 558.79 492.25 C562.81 489.69 567.80 487.47 571.03 485.79 C574.26 484.11 576.97 482.76 578.15 482.15 L579.07 482.15 L579.25 472.06 L580.35 475.77 L583.95 479.41 L587.55 482.90 L591.16 486.26 L594.76 489.49 L598.37 492.60 L601.97 495.58 L605.57 498.45 L609.18 501.21 L612.78 503.86 L616.39 506.41 L619.99 508.86 L623.59 511.22 L627.20 513.48 L630.80 515.66 L634.41 517.75 L638.01 519.76 L641.61 521.69 L645.22 523.55 L648.82 525.33 L652.43 527.05 L656.03 528.69 L659.64 530.27 L663.24 531.79 L666.84 533.25 L670.45 534.66 L674.05 536.00 L677.66 537.29 L681.26 538.54 L684.86 539.73 L688.47 540.87" fill="none" stroke="#62b02a" stroke-width="2.50" stroke-linejoin="round" stroke-linecap="round"/><path d="M470.94 610.95 L471.67 602.07 C472.50 600.45 474.54 596.01 476.61 592.38 C478.68 588.74 481.35 584.98 484.09 580.26 C486.83 575.55 489.79 569.63 493.04 564.12 C496.30 558.60 500.29 552.41 503.64 547.16 C506.98 541.91 509.72 537.20 513.13 532.62 C516.54 528.05 520.44 523.87 524.09 519.70 C527.74 515.53 531.25 511.22 535.05 507.59 C538.86 503.96 542.96 501.00 546.92 497.90 C550.88 494.80 554.78 491.57 558.79 489.02 C562.81 486.46 567.80 484.24 571.03 482.56 C574.26 480.88 576.97 479.53 578.15 478.92 L579.07 478.92 L579.25 472.06 L580.35 474.16 L583.95 477.79 L587.55 481.29 L591.16 484.64 L594.76 487.87 L598.37 490.98 L601.97 493.97 L605.57 496.84 L609.18 499.59 L612.78 502.25 L616.39 504.80 L619.99 507.25 L623.59 509.60 L627.20 511.87 L630.80 514.04 L634.41 516.14 L638.01 518.15 L641.61 520.08 L645.22 521.93 L648.82 523.72 L652.43 525.43 L656.03 527.08 L659.64 528.66 L663.24 530.18 L666.84 531.64 L670.45 533.04 L674.05 534.39 L677.66 535.68 L681.26 536.92 L684.86 538.11 L688.47 539.26" fill="none" stroke="#62b02a" stroke-width="2.50" stroke-linejoin="round" stroke-linecap="round"/><path d="M470.94 610.95 L471.67 601.65 C472.50 599.89 474.54 595.09 476.61 591.09 C478.68 587.09 481.35 582.68 484.09 577.65 C486.83 572.62 489.79 566.51 493.04 560.88 C496.30 555.26 500.29 549.18 503.64 543.93 C506.98 538.68 509.72 533.97 513.13 529.39 C516.54 524.82 520.44 520.64 524.09 516.47 C527.74 512.30 531.25 507.99 535.05 504.36 C538.86 500.73 542.96 497.77 546.92 494.67 C550.88 491.57 554.78 488.34 558.79 485.79 C562.81 483.23 567.80 481.01 571.03 479.33 C574.26 477.65 576.97 476.30 578.15 475.69 L579.07 475.69 L579.25 472.06 L580.35 472.54 L583.95 476.18 L587.55 479.67 L591.16 483.03 L594.76 486.26 L598.37 489.37 L601.97 492.35 L605.57 495.22 L609.18 497.98 L612.78 500.63 L616.39 503.18 L619.99 505.63 L623.59 507.99 L627.20 510.25 L630.80 512.43 L634.41 514.52 L638.01 516.53 L641.61 518.46 L645.22 520.32 L648.82 522.10 L652.43 523.82 L656.03 525.46 L659.64 527.04 L663.24 528.56 L666.84 530.02 L670.45 531.43 L674.05 532.77 L677.66 534.06 L681.26 535.31 L684.86 536.50 L688.47 537.64" fill="none" stroke="#62b02a" stroke-width="2.50" stroke-linejoin="round" stroke-linecap="round"/><path d="M432.77 594.64 L451.04 594.32 L461.99 594.64 L467.11 594.80 L468.57 601.26 L469.30 614.18 L469.67 614.18 L469.85 567.34 L471.49 567.34 L471.86 578.65" fill="none" stroke="#34479b" stroke-width="2.40" stroke-linejoin="round" stroke-linecap="round"/><path d="M470.94 573.80 L472.04 577.03 C472.80 575.55 474.57 572.06 476.61 568.15 C478.65 564.25 481.32 559.40 484.28 553.62 C487.23 547.83 490.88 540.29 494.32 533.43 C497.76 526.57 500.74 519.43 504.91 512.43 C509.09 505.44 514.50 498.03 519.34 491.44 C524.18 484.85 529.05 478.39 533.95 472.87 C538.86 467.35 543.85 462.50 548.75 458.33 C553.65 454.16 558.46 450.80 563.36 447.83 C568.26 444.87 575.69 441.78 578.15 440.57 L578.88 435.72 L579.25 534.24 L579.61 463.08 L580.71 463.08 L584.30 466.52 L587.89 469.86 L591.49 473.10 L595.08 476.24 L598.67 479.29 L602.26 482.24 L605.85 485.10 L609.45 487.88 L613.04 490.57 L616.63 493.18 L620.22 495.71 L623.81 498.16 L627.41 500.54 L631.00 502.85 L634.59 505.08 L638.18 507.25 L641.77 509.36 L645.36 511.40 L648.96 513.37 L652.55 515.29 L656.14 517.15 L659.73 518.96 L663.32 520.71 L666.92 522.40 L670.51 524.05 L674.10 525.65 L677.69 527.19 L681.28 528.70 L684.88 530.15 L688.47 531.57" fill="none" stroke="#34479b" stroke-width="2.60" stroke-linejoin="round" stroke-linecap="round"/><path d="M470.94 573.80 L472.04 578.65 C472.80 577.30 474.57 574.21 476.61 570.57 C478.65 566.94 481.32 562.10 484.28 556.85 C487.23 551.60 490.88 545.14 494.32 539.08 C497.76 533.03 500.74 527.24 504.91 520.51 C509.09 513.78 514.50 505.17 519.34 498.71 C524.18 492.25 529.05 487.13 533.95 481.75 C538.86 476.37 543.85 470.71 548.75 466.41 C553.65 462.10 558.46 459.14 563.36 455.91 C568.26 452.68 575.69 448.51 578.15 447.03 L578.88 435.72 L579.25 534.24 L579.61 466.69 L580.71 466.69 L584.30 470.10 L587.89 473.40 L591.49 476.60 L595.08 479.70 L598.67 482.70 L602.26 485.62 L605.85 488.44 L609.45 491.17 L613.04 493.83 L616.63 496.39 L620.22 498.89 L623.81 501.30 L627.41 503.64 L631.00 505.90 L634.59 508.10 L638.18 510.23 L641.77 512.29 L645.36 514.29 L648.96 516.23 L652.55 518.11 L656.14 519.93 L659.73 521.70 L663.32 523.41 L666.92 525.06 L670.51 526.67 L674.10 528.23 L677.69 529.74 L681.28 531.20 L684.88 532.61 L688.47 533.99" fill="none" stroke="#34479b" stroke-width="2.60" stroke-linejoin="round" stroke-linecap="round"/><path d="M470.94 573.80 L472.04 579.46 C472.80 578.25 474.57 575.55 476.61 572.19 C478.65 568.83 481.32 564.38 484.28 559.27 C487.23 554.16 490.88 547.56 494.32 541.50 C497.76 535.45 500.74 529.66 504.91 522.93 C509.09 516.20 514.50 507.59 519.34 501.13 C524.18 494.67 529.05 489.42 533.95 484.17 C538.86 478.92 543.85 473.54 548.75 469.64 C553.65 465.73 558.46 463.45 563.36 460.75 C568.26 458.06 575.69 454.70 578.15 453.49 L578.88 435.72 L579.25 534.24 L579.61 475.62 L580.71 475.62 L584.30 478.63 L587.89 481.58 L591.49 484.45 L595.08 487.25 L598.67 489.99 L602.26 492.66 L605.85 495.27 L609.45 497.82 L613.04 500.30 L616.63 502.73 L620.22 505.10 L623.81 507.41 L627.41 509.67 L631.00 511.87 L634.59 514.02 L638.18 516.12 L641.77 518.17 L645.36 520.17 L648.96 522.12 L652.55 524.03 L656.14 525.89 L659.73 527.70 L663.32 529.48 L666.92 531.21 L670.51 532.90 L674.10 534.54 L677.69 536.15 L681.28 537.73 L684.88 539.26 L688.47 540.76" fill="none" stroke="#34479b" stroke-width="2.60" stroke-linejoin="round" stroke-linecap="round"/><rect x="469.12" y="567.34" width="3.2" height="46.84" fill="#34479b"/>
</svg></body></html>
